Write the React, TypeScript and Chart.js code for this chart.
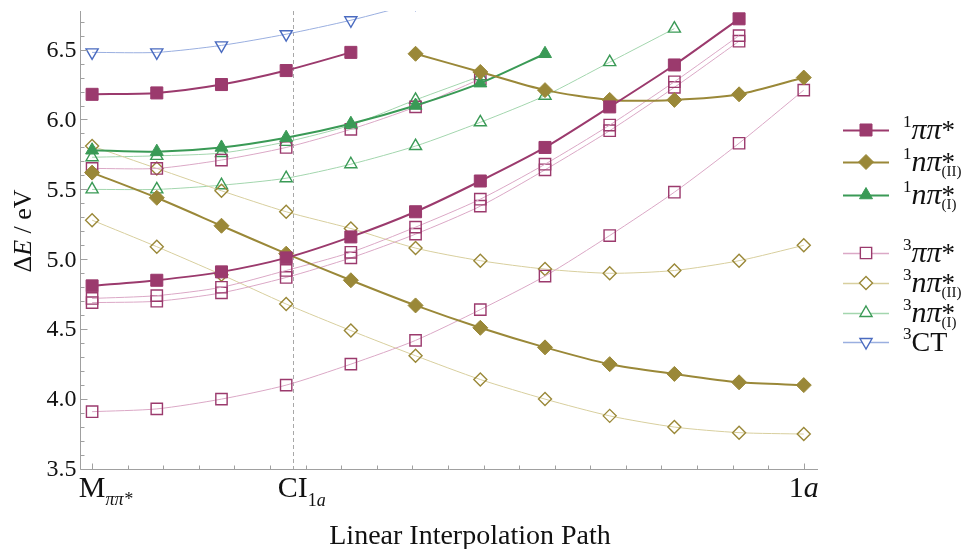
import { useEffect, useRef } from 'react';
import { Chart, registerables } from 'chart.js';

Chart.register(...registerables);

// ---- data ----
const PATH = [0, 0.0909, 0.1818, 0.2727, 0.3636, 0.4545, 0.5455, 0.6364, 0.7273, 0.8182, 0.9091, 1];
const CI_POS = 0.282;
const Y_TICKS = [3.5, 4.0, 4.5, 5.0, 5.5, 6.0, 6.5];

const S_PIPI_LOW = [4.81, 4.85, 4.91, 5.01, 5.16, 5.34, 5.56, 5.80, 6.09, 6.39, 6.72, null];
const S_PIPI_HIGH = [6.18, 6.19, 6.25, 6.35, 6.48, null, null, null, null, null, null, null];
const S_NPI2_LOW = [5.62, 5.44, 5.24, 5.04, 4.85, 4.67, 4.51, 4.37, 4.25, 4.18, 4.12, 4.10];
const S_NPI2_HIGH = [null, null, null, null, null, 6.47, 6.34, 6.21, 6.14, 6.14, 6.18, 6.30];
const S_NPI1 = [5.78, 5.77, 5.80, 5.87, 5.97, 6.10, 6.26, 6.47, null, null, null, null];

const T_PIPI_A = [5.65, 5.65, 5.71, 5.80, 5.93, 6.09, 6.29, null, null, null, null, null];
const T_PIPI_B = [4.72, 4.74, 4.80, 4.92, 5.05, 5.23, 5.43, 5.68, 5.96, 6.27, 6.60, null];
const T_PIPI_C = [4.69, 4.70, 4.76, 4.87, 5.01, 5.18, 5.38, 5.64, 5.92, 6.23, 6.56, null];
const T_PIPI_D = [3.91, 3.93, 4.00, 4.10, 4.25, 4.42, 4.64, 4.88, 5.17, 5.48, 5.83, 6.21];
const T_NPI2_A = [5.81, 5.65, 5.49, 5.34, 5.22, 5.08, 4.99, 4.93, 4.90, 4.92, 4.99, 5.10];
const T_NPI2_B = [5.28, 5.09, 4.89, 4.68, 4.49, 4.31, 4.14, 4.00, 3.88, 3.80, 3.76, 3.75];
const T_NPI1_A = [5.73, 5.74, 5.76, 5.84, 5.96, 6.14, 6.31, null, null, null, null, null];
const T_NPI1_B = [5.50, 5.50, 5.53, 5.58, 5.68, 5.81, 5.98, 6.17, 6.41, 6.65, null, null];
const T_CT = [6.48, 6.48, 6.53, 6.61, 6.71, 6.83, null, null, null, null, null, null];

// ---- styles ----
const C_PIPI = '#9b3a6d';
const C_NPI2 = '#9a8838';
const C_NPI1 = '#3a9a56';
const C_CT = '#4a6bc0';
const P_PIPI = '#dba8c6';
const P_NPI2 = '#d8cf9e';
const P_NPI1 = '#a3d6ae';
const P_CT = '#9aafe0';
const AXIS = '#a0a0a0';
const FONT = '"Liberation Serif", "Times New Roman", serif';

function pts(vals: (number | null)[]) {
  const out: { x: number; y: number }[] = [];
  vals.forEach((v, i) => {
    if (v !== null) out.push({ x: PATH[i], y: v });
  });
  return out;
}

function singlet(vals: (number | null)[], color: string, style: string, r: number) {
  return {
    data: pts(vals),
    borderColor: color,
    borderWidth: 2,
    pointStyle: style,
    pointRadius: r,
    pointBackgroundColor: color,
    pointBorderColor: color,
    pointBorderWidth: 1,
    tension: 0.25,
  };
}

function triplet(vals: (number | null)[], color: string, pale: string, style: string, r: number, rot = 0) {
  return {
    data: pts(vals),
    borderColor: pale,
    borderWidth: 1,
    pointStyle: style,
    pointRadius: r,
    pointRotation: rot,
    pointBackgroundColor: 'rgba(0,0,0,0)',
    pointBorderColor: color,
    pointBorderWidth: 1.4,
    tension: 0.25,
  };
}

type Seg = { t: string; size: number; italic?: boolean; dy?: number; stay?: boolean };

function segWidth(ctx: CanvasRenderingContext2D, s: Seg) {
  ctx.font = `${s.italic ? 'italic ' : ''}${s.size}px ${FONT}`;
  return ctx.measureText(s.t).width;
}

function drawSegs(ctx: CanvasRenderingContext2D, x: number, base: number, segs: Seg[]) {
  let cx = x;
  ctx.textAlign = 'left';
  ctx.textBaseline = 'alphabetic';
  for (const s of segs) {
    ctx.font = `${s.italic ? 'italic ' : ''}${s.size}px ${FONT}`;
    ctx.fillText(s.t, cx, base + (s.dy || 0));
    if (!s.stay) cx += ctx.measureText(s.t).width;
  }
}

function drawMarker(ctx: CanvasRenderingContext2D, style: string, x: number, y: number, r: number, color: string, filled: boolean, rot = 0) {
  ctx.save();
  ctx.beginPath();
  if (style === 'rect') {
    const s = Math.SQRT1_2 * r;
    ctx.rect(x - s, y - s, 2 * s, 2 * s);
  } else if (style === 'rectRot') {
    ctx.moveTo(x - r, y);
    ctx.lineTo(x, y - r);
    ctx.lineTo(x + r, y);
    ctx.lineTo(x, y + r);
    ctx.closePath();
  } else {
    let a = (rot * Math.PI) / 180;
    ctx.moveTo(x + Math.sin(a) * r, y - Math.cos(a) * r);
    a += (2 * Math.PI) / 3;
    ctx.lineTo(x + Math.sin(a) * r, y - Math.cos(a) * r);
    a += (2 * Math.PI) / 3;
    ctx.lineTo(x + Math.sin(a) * r, y - Math.cos(a) * r);
    ctx.closePath();
  }
  if (filled) {
    ctx.fillStyle = color;
    ctx.fill();
  } else {
    ctx.fillStyle = '#ffffff';
    ctx.fill();
  }
  ctx.strokeStyle = color;
  ctx.lineWidth = filled ? 1 : 1.4;
  ctx.stroke();
  ctx.restore();
}

const LEGEND = [
  { y: 130, color: C_PIPI, line: C_PIPI, lw: 2, style: 'rect', r: 8.5, filled: true, rot: 0, spin: '1', main: 'ππ', sub: '' },
  { y: 162, color: C_NPI2, line: C_NPI2, lw: 2, style: 'rectRot', r: 7.5, filled: true, rot: 0, spin: '1', main: 'nπ', sub: '(II)' },
  { y: 195, color: C_NPI1, line: C_NPI1, lw: 2, style: 'triangle', r: 7.5, filled: true, rot: 0, spin: '1', main: 'nπ', sub: '(I)' },
  { y: 253, color: C_PIPI, line: P_PIPI, lw: 1.5, style: 'rect', r: 8, filled: false, rot: 0, spin: '3', main: 'ππ', sub: '' },
  { y: 283, color: C_NPI2, line: P_NPI2, lw: 1.5, style: 'rectRot', r: 6.5, filled: false, rot: 0, spin: '3', main: 'nπ', sub: '(II)' },
  { y: 313, color: C_NPI1, line: P_NPI1, lw: 1.5, style: 'triangle', r: 7, filled: false, rot: 0, spin: '3', main: 'nπ', sub: '(I)' },
  { y: 342, color: C_CT, line: P_CT, lw: 1.5, style: 'triangle', r: 7, filled: false, rot: 180, spin: '3', main: 'CT', sub: '' },
];

const decor = {
  id: 'decor',
  beforeDatasetsDraw(chart: any) {
    const { ctx, chartArea, scales } = chart;
    const cx = Math.round(scales.x.getPixelForValue(CI_POS)) + 0.5;
    ctx.save();
    ctx.strokeStyle = '#a8a8a8';
    ctx.lineWidth = 1;
    ctx.setLineDash([4, 3]);
    ctx.beginPath();
    ctx.moveTo(cx, chartArea.top);
    ctx.lineTo(cx, chartArea.bottom);
    ctx.stroke();
    ctx.restore();
  },
  afterDraw(chart: any) {
    const { ctx, chartArea, scales } = chart;
    const { x, y } = scales;
    const L = chartArea.left + 0.5;
    const B = Math.round(chartArea.bottom) + 0.5;
    ctx.save();
    ctx.strokeStyle = AXIS;
    ctx.lineWidth = 1;
    ctx.beginPath();
    ctx.moveTo(L, chartArea.top);
    ctx.lineTo(L, B);
    ctx.lineTo(chartArea.right, B);
    ctx.stroke();
    // y ticks
    ctx.beginPath();
    for (let k = 35; k <= 67; k++) {
      const py = Math.round(y.getPixelForValue(k / 10)) + 0.5;
      const len = k % 5 === 0 ? 7 : 4;
      ctx.moveTo(L, py);
      ctx.lineTo(L + len, py);
    }
    // x ticks
    for (let k = 0; k <= 20; k++) {
      const px = Math.round(x.getPixelForValue(k * 0.05)) + 0.5;
      const len = k === 0 || k === 20 ? 6 : 4;
      ctx.moveTo(px, B);
      ctx.lineTo(px, B - len);
    }
    ctx.stroke();

    ctx.fillStyle = '#111';
    // y labels
    ctx.font = `24px ${FONT}`;
    ctx.textAlign = 'right';
    ctx.textBaseline = 'middle';
    for (const v of Y_TICKS) {
      ctx.fillText(v.toFixed(1), L - 4, y.getPixelForValue(v) + 1);
    }
    // x labels
    const xb = 497;
    const m: Seg = { t: 'M', size: 30 };
    let w = segWidth(ctx, m);
    drawSegs(ctx, x.getPixelForValue(0) - w / 2, xb, [m, { t: 'ππ*', size: 18, italic: true, dy: 8 }]);
    const ci: Seg = { t: 'CI', size: 30 };
    w = segWidth(ctx, ci);
    drawSegs(ctx, x.getPixelForValue(CI_POS) - w / 2, xb, [ci, { t: '1', size: 18, dy: 9 }, { t: 'a', size: 18, italic: true, dy: 9 }]);
    const one: Seg[] = [{ t: '1', size: 30 }, { t: 'a', size: 30, italic: true }];
    w = segWidth(ctx, one[0]) + segWidth(ctx, one[1]);
    drawSegs(ctx, x.getPixelForValue(1) - w / 2, xb, one);

    // axis titles
    ctx.font = `28px ${FONT}`;
    ctx.textAlign = 'center';
    ctx.textBaseline = 'alphabetic';
    ctx.fillText('Linear Interpolation Path', 470, 544);

    ctx.save();
    ctx.translate(31, 231);
    ctx.rotate(-Math.PI / 2);
    const ysegs: Seg[] = [{ t: 'Δ', size: 26 }, { t: 'E', size: 26, italic: true }, { t: ' / eV', size: 26 }];
    const yw = ysegs.reduce((a, s) => a + segWidth(ctx, s), 0);
    drawSegs(ctx, -yw / 2, 0, ysegs);
    ctx.restore();

    // legend
    for (const it of LEGEND) {
      ctx.save();
      ctx.strokeStyle = it.line;
      ctx.lineWidth = it.lw;
      ctx.beginPath();
      ctx.moveTo(843, it.y + 0.5);
      ctx.lineTo(889, it.y + 0.5);
      ctx.stroke();
      ctx.restore();
      drawMarker(ctx, it.style, 866, it.y, it.r, it.color, it.filled, it.rot);
      ctx.fillStyle = '#111';
      const base = it.y + 9;
      const segs: Seg[] = [{ t: it.spin, size: 17, dy: -12 }];
      if (it.main === 'CT') {
        segs.push({ t: 'CT', size: 28 });
      } else {
        segs.push({ t: it.main, size: 30, italic: true });
        segs.push({ t: '*', size: 27, stay: !!it.sub });
        if (it.sub) segs.push({ t: it.sub, size: 15, dy: 5 });
      }
      drawSegs(ctx, 903, base, segs);
    }
    ctx.restore();
  },
};

export default function App() {
  const ref = useRef<HTMLCanvasElement | null>(null);
  useEffect(() => {
    if (!ref.current) return;
    const chart = new Chart(ref.current, {
      type: 'line',
      data: {
        datasets: [
          singlet(S_PIPI_HIGH, C_PIPI, 'rect', 8.5),
          singlet(S_PIPI_LOW, C_PIPI, 'rect', 8.5),
          singlet(S_NPI2_HIGH, C_NPI2, 'rectRot', 7.5),
          singlet(S_NPI2_LOW, C_NPI2, 'rectRot', 7.5),
          singlet(S_NPI1, C_NPI1, 'triangle', 7.5),
          triplet(T_PIPI_A, C_PIPI, P_PIPI, 'rect', 8),
          triplet(T_PIPI_B, C_PIPI, P_PIPI, 'rect', 8),
          triplet(T_PIPI_C, C_PIPI, P_PIPI, 'rect', 8),
          triplet(T_PIPI_D, C_PIPI, P_PIPI, 'rect', 8),
          triplet(T_NPI2_A, C_NPI2, P_NPI2, 'rectRot', 6.5),
          triplet(T_NPI2_B, C_NPI2, P_NPI2, 'rectRot', 6.5),
          triplet(T_NPI1_A, C_NPI1, P_NPI1, 'triangle', 7),
          triplet(T_NPI1_B, C_NPI1, P_NPI1, 'triangle', 7),
          triplet(T_CT, C_CT, P_CT, 'triangle', 7, 180),
        ] as any,
      },
      options: {
        responsive: false,
        animation: false,
        layout: { padding: { left: 80, right: 148, top: 11, bottom: 80 } },
        plugins: { legend: { display: false }, tooltip: { enabled: false } },
        scales: {
          x: { type: 'linear', display: false, min: -0.017, max: 1.02 },
          y: { type: 'linear', display: false, min: 3.5, max: 6.776 },
        },
      },
      plugins: [decor],
    });
    return () => chart.destroy();
  }, []);
  return (
    <div style={{ position: 'fixed', left: 0, top: 0, width: 966, height: 549, background: '#fff' }}>
      <canvas ref={ref} width={966} height={549} style={{ display: 'block' }} />
    </div>
  );
}
